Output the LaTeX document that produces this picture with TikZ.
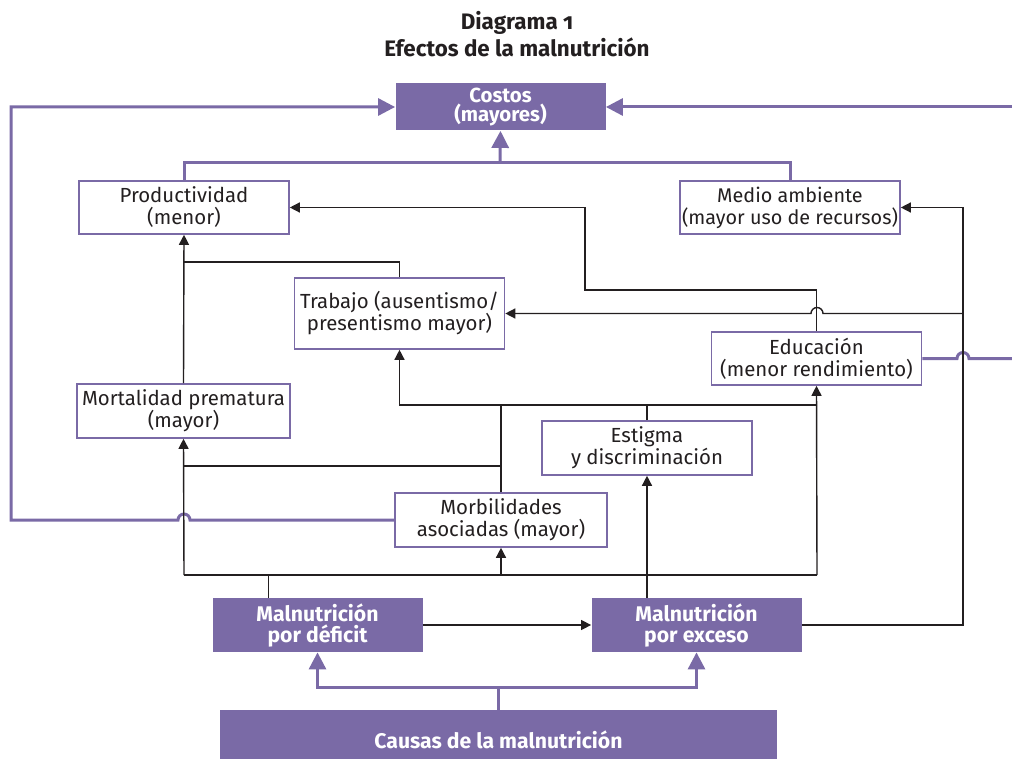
\documentclass[tikz,border=0pt]{standalone}
\usepackage{fontspec}
\setmainfont{Fira Sans}
\usepackage{tikz}
\usetikzlibrary{positioning, arrows.meta, calc}
\definecolor{malva}{RGB}{122,106,166}
\definecolor{tinta}{RGB}{35,31,32}
\tikzstyle{block} = [rectangle, draw=malva, line width=0.8pt, fill=white,
                 align=center, inner sep=1pt, text=tinta,
                 minimum width=105pt, minimum height=26.5pt,
                 font=\fontsize{10.2}{11}\selectfont]
\tikzstyle{solid block} = [rectangle, fill=malva, text=white, align=center,
                 inner sep=1pt, minimum width=105pt, minimum height=27pt,
                 font=\bfseries\fontsize{10.6}{10.5}\selectfont]
\tikzstyle{branch} = [line width=0.7pt, draw=tinta]
\tikzstyle{feed} = [line width=1.5pt, draw=malva]
\tikzset{
	pointer/.style={-{Triangle[length=5pt, width=5pt]}},
	big pointer/.style={-{Triangle[length=8.5pt, width=8.5pt]}},
}

\begin{document}
\begin{tikzpicture}[x=0.5pt, y=-0.5pt]

\useasboundingbox (0,0) rectangle (1012,759);

\node [text=tinta, align=center, font=\bfseries\fontsize{11.2}{13.5}\selectfont]
	at (517,34) (title) {Diagrama {\addfontfeatures{Numbers=OldStyle}1}\\Efectos de la malnutrición};

\node [solid block, minimum height=23.5pt, font=\bfseries\fontsize{10.2}{9.5}\selectfont]
	at (500.5,107) (costos) {Costos\\(mayores)};
\node [block] at (184,207.5) (prod) {Productividad\\(menor)};
\node [block, minimum width=110pt, inner sep=0pt, font=\fontsize{9.9}{11}\selectfont]
	at (790,207.5) (medio) {Medio ambiente\\(mayor uso de recursos)};
\node [block, minimum height=35.5pt] at (399.5,313.5) (trab) {Trabajo (ausentismo/\\presentismo mayor)};
\node [block] at (816.5,358.5) (edu) {Educación\\(menor rendimiento)};
\node [block, minimum width=106.5pt, minimum height=27pt] at (183.5,411) (mort) {Mortalidad prematura\\(mayor)};
\node [block, minimum height=27pt] at (647,448) (estig) {Estigma\\y discriminación};
\node [block, minimum width=106pt, minimum height=27pt] at (501,520) (morb) {Morbilidades\\asociadas (mayor)};
\node [solid block] at (317.5,625) (def) {Malnutrición\\por déficit};
\node [solid block] at (696.5,625) (exc) {Malnutrición\\por exceso};
\node [solid block, minimum width=278.5pt, minimum height=25pt, text depth=0pt]
	at (498.5,735) (causas) {\raisebox{-5pt}{Causas de la malnutrición}};

\coordinate (rim low) at (1012,358.5);
\coordinate (rim high) at (1012,107);

% purple links to costs
\path [feed] (prod.north) |- (500,163) -| (medio.north);
\path [feed, big pointer] (500,163) -- (costos.south);
\path [feed, big pointer] (morb.west) -- (190,520)
	arc[start angle=0, end angle=-180, radius=6] -- (11,520) |- (costos.west);
\path [feed] (edu.east) -- (957,358.5)
	arc[start angle=180, end angle=360, radius=6] -- (rim low);
\path [feed, big pointer] (rim high) -- (costos.east);

% causes
\path [feed] (causas.north) -- (498.5,687);
\path [feed, big pointer] (498.5,687) -| (def.south);
\path [feed, big pointer] (498.5,687) -| (exc.south);

% lower bus
\path [branch] ($(def.north)+(-49,0)$) -- (268.5,575);
\path [branch] (184,575) -- (817,575);
\path [branch, pointer] (184,575) -- (mort.south);
\path [branch, pointer] (501,575) -- (morb.south);
\path [branch, pointer] (817,575) -- (edu.south);
\path [branch, pointer] (def.east) -- (exc.west);
\path [branch, pointer] (exc.north -| estig.south) -- (estig.south);

% middle links
\path [branch] (morb.north) -- (501,405);
\path [branch] (501,466) -- (184,466);
\path [branch] (estig.north) -- (647,405);
\path [branch, pointer] (817,405) -| (trab.south);
\path [branch, pointer] (mort.north) -- (prod.south);
\path [branch] (trab.north) |- (184,262);
\path [branch, pointer] (edu.north) |- (585,290) |- (prod.east);
\path [branch, pointer] (exc.east) -| (963,207.5) -- (medio.east);
\path [branch, pointer] (963,313.5) -- (823,313.5)
	arc[start angle=0, end angle=-180, radius=6] -- (trab.east);

\end{tikzpicture}
\end{document}
